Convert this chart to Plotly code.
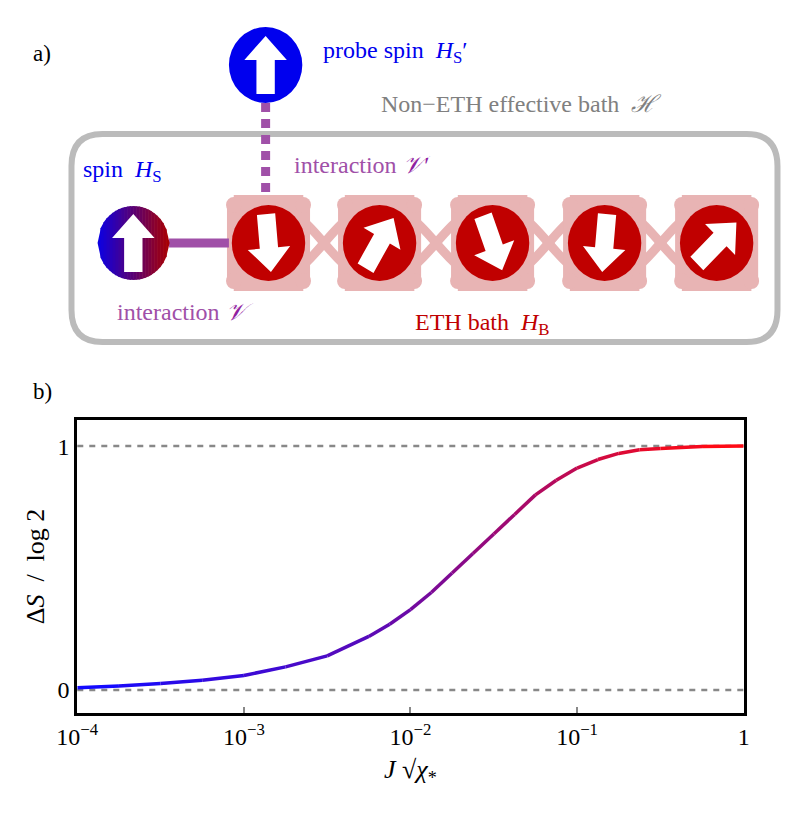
import math
import plotly.graph_objects as go

# ---- data for panel b ----
log_x = [-4, -3.75, -3.5, -3.25, -3, -2.75, -2.5, -2.25, -2.125, -2, -1.875, -1.75, -1.625,
         -1.5, -1.375, -1.25, -1.125, -1, -0.875, -0.75, -0.625, -0.5, -0.25, 0]
delta_s = [0.01, 0.017, 0.027, 0.04, 0.06, 0.095, 0.14, 0.22, 0.27, 0.33, 0.40, 0.48, 0.56,
           0.64, 0.72, 0.80, 0.86, 0.91, 0.945, 0.97, 0.985, 0.99, 0.998, 1.0]
x_tickvals = [1e-4, 1e-3, 1e-2, 1e-1, 1]
x_ticktext = ["10<sup>−4</sup>", "10<sup>−3</sup>", "10<sup>−2</sup>", "10<sup>−1</sup>", "1"]
y_tickvals = [0, 1]
y_ticktext = ["0", "1"]

SERIF = "Liberation Serif"
fig = go.Figure()

n = len(log_x)
for i in range(n - 1):
    t = i / (n - 2)
    r = int(20 + 235 * t); b = int(255 - 235 * t)
    fig.add_trace(go.Scatter(x=[10 ** log_x[i], 10 ** log_x[i + 1]], y=[delta_s[i], delta_s[i + 1]],
                             mode="lines", line=dict(color=f"rgb({r},10,{b})", width=3.5),
                             showlegend=False, hoverinfo="skip", xaxis="x", yaxis="y"))

fig.add_trace(go.Scatter(x=[0], y=[0], mode="markers", marker=dict(opacity=0), showlegend=False,
                         xaxis="x2", yaxis="y2", hoverinfo="skip"))

shapes = []
for yv in [0, 1]:
    shapes.append(dict(type="line", xref="x domain", yref="y", x0=0, x1=1, y0=yv, y1=yv,
                       line=dict(color="#888", width=2.5, dash="6px,6px"), layer="below"))

def S(**kw):
    d = dict(xref="x2", yref="y2"); d.update(kw); shapes.append(d)

def circle(cx, cy, r, fill):
    S(type="circle", x0=cx - r, x1=cx + r, y0=cy - r, y1=cy + r, fillcolor=fill, line=dict(width=0))

def arrow(cx, cy, ang_deg, L=58, sw=19, hw=44, hl=24):
    a = math.radians(ang_deg)
    ux, uy = math.sin(a), -math.cos(a)
    px, py = -uy, ux
    pts_local = [(-L / 2, -sw / 2), (L / 2 - hl, -sw / 2), (L / 2 - hl, -hw / 2), (L / 2, 0),
                 (L / 2 - hl, hw / 2), (L / 2 - hl, sw / 2), (-L / 2, sw / 2)]
    pts = [(cx + s * ux + w * px, cy + s * uy + w * py) for s, w in pts_local]
    path = "M " + " L ".join(f"{x:.1f},{y:.1f}" for x, y in pts) + " Z"
    S(type="path", path=path, fillcolor="white", line=dict(width=0))

x0b, x1b, y0b, y1b, rr = 44, 775, 126, 334, 32
path = (f"M {x0b+rr},{y0b} L {x1b-rr},{y0b} Q {x1b},{y0b} {x1b},{y0b+rr} L {x1b},{y1b-rr} "
        f"Q {x1b},{y1b} {x1b-rr},{y1b} L {x0b+rr},{y1b} Q {x0b},{y1b} {x0b},{y1b-rr} "
        f"L {x0b},{y0b+rr} Q {x0b},{y0b} {x0b+rr},{y0b} Z")
S(type="path", path=path, line=dict(color="#bbbbbb", width=6), fillcolor="rgba(0,0,0,0)")

bath_x = [248, 363, 480, 596, 712]
cy = 235
pink = "#e8b4b4"
for i in range(4):
    a, b = bath_x[i], bath_x[i + 1]
    m = (a + b) / 2
    S(type="path", path=f"M {a},{cy-28} C {m-15},{cy-55} {m+15},{cy+55} {b},{cy+28}",
      line=dict(color=pink, width=9))
    S(type="path", path=f"M {a},{cy+28} C {m-15},{cy+55} {m+15},{cy-55} {b},{cy-28}",
      line=dict(color=pink, width=9))
for bx in bath_x:
    S(type="rect", x0=bx - 36, x1=bx + 36, y0=cy - 48, y1=cy + 48, fillcolor=pink, line=dict(width=0))
    S(type="rect", x0=bx - 43, x1=bx + 43, y0=cy - 38, y1=cy + 38, fillcolor=pink, line=dict(width=0))
    for ddx in (-36, 36):
        for ddy in (-38, 38):
            circle(bx + ddx, cy + ddy, 8, pink)

S(type="line", x0=145, x1=207, y0=cy, y1=cy, line=dict(color="#a050a8", width=9))
S(type="line", x0=245, x1=245, y0=95, y1=187, line=dict(color="#a050a8", width=9, dash="9px,7px"))

angles = [175, 30, 160, 185, 45]
for bx, ang in zip(bath_x, angles):
    circle(bx, cy, 38, "#c00000")
    arrow(bx, cy, ang)

circle(245, 57, 38, "#0000ee")
arrow(245, 57, 0)

scx, scy, sr = 108, 235, 37
nst = 24
def hy(xx):
    return math.sqrt(max(sr * sr - (xx - scx) ** 2, 0))
for k in range(nst):
    xa = scx - sr + 2 * sr * k / nst
    xb = scx - sr + 2 * sr * (k + 1) / nst + 0.6
    t = (k + 0.5) / nst
    col = f"rgb({int(10 + 160 * t)},0,{int(230 - 230 * t)})"
    p = (f"M {xa:.2f},{scy-hy(xa):.2f} L {xb:.2f},{scy-hy(xb):.2f} "
         f"L {xb:.2f},{scy+hy(xb):.2f} L {xa:.2f},{scy+hy(xa):.2f} Z")
    S(type="path", path=p, fillcolor=col, line=dict(width=0))
arrow(scx, scy, 0)

ann = []
def T(x, y, text, color, size=24):
    ann.append(dict(xref="x2", yref="y2", x=x, y=y, text=text, showarrow=False,
                    font=dict(family=SERIF, size=size, color=color), xanchor="left", yanchor="middle"))

T(2, 45, "a)", "black", 23)
T(2, 383, "b)", "black", 23)
T(302, 44, "probe spin  <i>H</i><sub>S</sub>′", "#0000ee")
T(362, 96, "Non−ETH effective bath  <i>ℋ</i>", "#808080")
T(54, 163, "spin  <i>H</i><sub>S</sub>", "#0000ee")
T(272, 157, "interaction <i><span style='color:#9020a0'>𝒱′</span></i>", "#a050a8")
T(89, 304, "interaction <i><span style='color:#9020a0'>𝒱</span></i>", "#a050a8")
T(398, 316, "ETH bath  <i>H</i><sub>B</sub>", "#c00000")

fig.update_layout(
    width=789, height=819, margin=dict(l=0, r=0, t=0, b=0),
    plot_bgcolor="rgba(0,0,0,0)", paper_bgcolor="white",
    shapes=shapes, annotations=ann,
    xaxis=dict(type="log", range=[-4, 0], domain=[50 / 789, 740 / 789],
               tickvals=x_tickvals, ticktext=x_ticktext, ticks="inside", ticklen=6, tickwidth=2,
               tickcolor="#888", showgrid=False, zeroline=False, showline=True, mirror=True,
               linecolor="black", linewidth=3,
               tickfont=dict(family=SERIF, size=24, color="black"),
               title=dict(text="<i>J</i> √<i>χ</i><sub>*</sub>", font=dict(family=SERIF, size=26, color="black"),
                          standoff=12)),
    yaxis=dict(range=[-0.094, 1.107], domain=[1 - 705 / 819, 1 - 412 / 819],
               tickvals=y_tickvals, ticktext=y_ticktext, ticks="", showgrid=False,
               zeroline=False, showline=True, mirror=True, linecolor="black", linewidth=3,
               tickfont=dict(family=SERIF, size=24, color="black"),
               title=dict(text="Δ<i>S</i>  /  log 2", font=dict(family=SERIF, size=26, color="black"), standoff=6)),
    xaxis2=dict(range=[0, 789], domain=[0, 1], visible=False, fixedrange=True, anchor="y2"),
    yaxis2=dict(range=[819, 0], domain=[0, 1], visible=False, fixedrange=True, anchor="x2"),
)
fig.write_html("out.html")
